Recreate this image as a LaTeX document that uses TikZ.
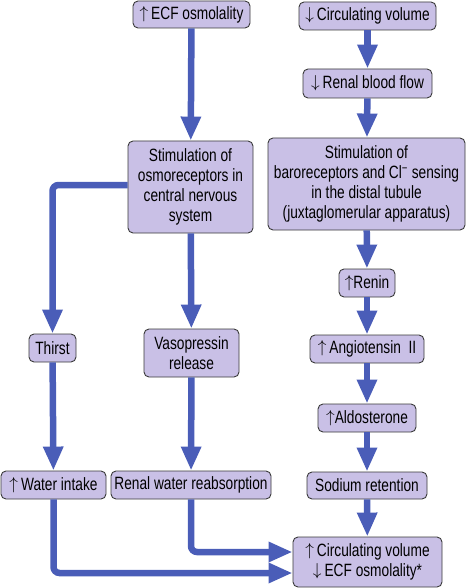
\documentclass[tikz,border=0pt]{standalone}
\usepackage{fontspec}
\setmainfont{Liberation Sans}[FakeStretch=0.77]
\usetikzlibrary{arrows.meta,positioning}
\definecolor{boxfill}{HTML}{C9C0E6}
\definecolor{boxline}{HTML}{3A3A3A}
\definecolor{flow}{HTML}{4A5DB8}
\newcommand{\myup}{\raisebox{0.05em}{$\uparrow$}}
\newcommand{\mydown}{\raisebox{0.05em}{$\downarrow$}}
\tikzset{
  box/.style={draw=boxline, line width=0.9pt, fill=boxfill, rounded corners=5pt,
    align=center, inner sep=0pt, font=\fontsize{17.8}{20}\selectfont},
  flowline/.style={draw=flow, line width=6.5pt, rounded corners=6pt,
    -{Triangle[length=24pt,width=19pt]}}
}
\begin{document}
\begin{tikzpicture}[x=1pt,y=-1pt]
\useasboundingbox (0,0) rectangle (466,588);
% left / middle columns
\node[box, minimum width=117pt, minimum height=27pt] (ecf) at (191.5,14.5) {\myup\,ECF osmolality};
\node[box, minimum width=125pt, minimum height=92pt] (osmo) at (190.5,187) {Stimulation of\\osmoreceptors in\\central nervous\\system};
\node[box, minimum width=47pt, minimum height=28pt] (thirst) at (52.5,348) {Thirst};
\node[box, minimum width=95pt, minimum height=48pt] (vaso) at (191.5,353) {Vasopressin\\release};
\node[box, minimum width=105pt, minimum height=28pt] (water) at (53.5,485) {\myup\,Water intake};
\node[box, minimum width=160pt, minimum height=28pt] (renalw) at (191,485) {Renal water reabsorption};
% right column
\node[box, minimum width=137pt, minimum height=28pt] (circ) at (367.5,16) {\mydown\,Circulating volume};
\node[box, minimum width=129pt, minimum height=29pt] (rbf) at (367.5,83.5) {\mydown\,Renal blood flow};
\node[box, minimum width=197pt, minimum height=92pt] (baro) at (366.5,184) {Stimulation of\\baroreceptors and Cl\textsuperscript{−} sensing\\in the distal tubule\\(juxtaglomerular apparatus)};
\node[box, minimum width=56pt, minimum height=28pt] (renin) at (367,283) {\myup Renin};
\node[box, minimum width=114pt, minimum height=28pt] (angio) at (367,349) {\myup\,Angiotensin\ \ II};
\node[box, minimum width=98pt, minimum height=28pt] (aldo) at (367,418) {\myup Aldosterone};
\node[box, minimum width=120pt, minimum height=27pt] (sodium) at (367,485.5) {Sodium retention};
\node[box, minimum width=149pt, minimum height=50pt] (final) at (367.5,562) {\myup\,Circulating volume\\\mydown\,ECF osmolality*};
% connectors
\draw[flowline] (ecf) -- (osmo);
\draw[flowline] ([yshift=2pt]osmo.west) -| (thirst.north);
\draw[flowline] (osmo) -- (vaso);
\draw[flowline] (thirst) -- (water);
\draw[flowline] (vaso) -- (renalw);
\draw[flowline] (circ) -- (rbf);
\draw[flowline] (rbf) -- (baro);
\draw[flowline] (baro) -- (renin);
\draw[flowline] (renin) -- (angio);
\draw[flowline] (angio) -- (aldo);
\draw[flowline] (aldo) -- (sodium);
\draw[flowline] (sodium) -- (final);
\draw[flowline] (renalw.south) |- ([yshift=10pt]final.west);
\draw[flowline] (water.south) |- ([yshift=-11pt]final.west);
\end{tikzpicture}
\end{document}
